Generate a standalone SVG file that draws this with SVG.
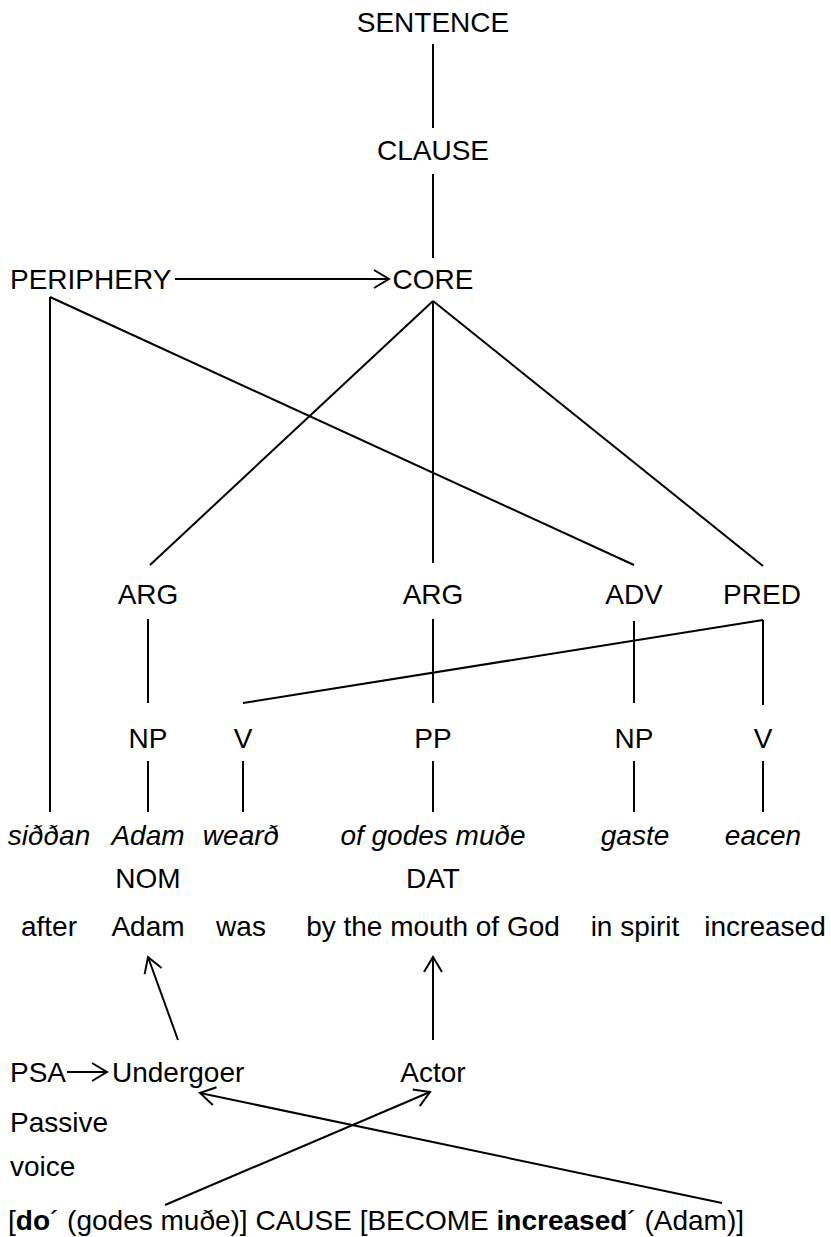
<svg xmlns="http://www.w3.org/2000/svg" width="831" height="1237" viewBox="0 0 831 1237">
<style>
text{font-family:"Liberation Sans",Arial,sans-serif;font-size:28px;fill:#000}
.c{text-anchor:middle}
.i{font-style:italic}
.b{font-weight:bold}
.ln{stroke:#000;stroke-width:2;fill:none}
.ar{stroke:#000;stroke-width:2;fill:none;marker-end:url(#ah)}
</style>
<defs>
<marker id="ah" markerUnits="userSpaceOnUse" viewBox="0 0 18 20" markerWidth="18" markerHeight="20" refX="16" refY="10" orient="auto">
<path d="M1,1 L16,10 L1,19" fill="none" stroke="#000" stroke-width="2"/>
</marker>
</defs>
<rect width="831" height="1237" fill="#fff"/>
<g id="connectors">
<line class="ln" x1="433" y1="44" x2="433" y2="128"/>
<line class="ln" x1="433" y1="174" x2="433" y2="258"/>
<line class="ar" x1="175" y1="279" x2="389" y2="279"/>
<line class="ln" x1="50" y1="297" x2="50" y2="812"/>
<line class="ln" x1="50" y1="297" x2="634" y2="565"/>
<line class="ln" x1="433" y1="301" x2="150" y2="565"/>
<line class="ln" x1="433" y1="301" x2="433" y2="563"/>
<line class="ln" x1="433" y1="301" x2="763" y2="566"/>
<line class="ln" x1="148" y1="619" x2="148" y2="703"/>
<line class="ln" x1="433" y1="619" x2="433" y2="703"/>
<line class="ln" x1="634" y1="621" x2="634" y2="703"/>
<line class="ln" x1="763" y1="620" x2="763" y2="705"/>
<line class="ln" x1="763" y1="620" x2="243" y2="703"/>
<line class="ln" x1="148" y1="761" x2="148" y2="812"/>
<line class="ln" x1="243" y1="761" x2="243" y2="812"/>
<line class="ln" x1="433" y1="761" x2="433" y2="812"/>
<line class="ln" x1="634" y1="761" x2="634" y2="812"/>
<line class="ln" x1="763" y1="761" x2="763" y2="812"/>
<line class="ar" x1="178" y1="1040" x2="148" y2="957"/>
<line class="ar" x1="433" y1="1040" x2="433" y2="957"/>
<line class="ar" x1="67" y1="1072" x2="107" y2="1072"/>
<line class="ar" x1="165" y1="1205" x2="430" y2="1092"/>
<line class="ar" x1="722" y1="1203" x2="200" y2="1093"/>
</g>
<g id="sentence"><text class="c" x="433" y="32">SENTENCE</text></g>
<g id="clause"><text class="c" x="433" y="160">CLAUSE</text></g>
<g id="periphery"><text x="10" y="289">PERIPHERY</text></g>
<g id="core"><text class="c" x="433" y="289">CORE</text></g>
<g id="arg1"><text class="c" x="148" y="604">ARG</text></g>
<g id="arg2"><text class="c" x="433" y="604">ARG</text></g>
<g id="adv"><text class="c" x="634" y="604">ADV</text></g>
<g id="pred"><text class="c" x="762" y="604">PRED</text></g>
<g id="np1"><text class="c" x="148" y="748">NP</text></g>
<g id="v1"><text class="c" x="243" y="748">V</text></g>
<g id="pp"><text class="c" x="433" y="748">PP</text></g>
<g id="np2"><text class="c" x="634" y="748">NP</text></g>
<g id="v2"><text class="c" x="763" y="748">V</text></g>
<g id="w-siddan"><text class="c i" x="49" y="845">siððan</text><text class="c" x="49" y="936">after</text></g>
<g id="w-adam"><text class="c i" x="148" y="845">Adam</text><text class="c" x="148" y="888">NOM</text><text class="c" x="148" y="936">Adam</text></g>
<g id="w-weard"><text class="c i" x="241" y="845">wearð</text><text class="c" x="241" y="936">was</text></g>
<g id="w-godes"><text class="c i" x="433" y="845">of godes muðe</text><text class="c" x="433" y="888">DAT</text><text class="c" x="433" y="936">by the mouth of God</text></g>
<g id="w-gaste"><text class="c i" x="635" y="845">gaste</text><text class="c" x="635" y="936">in spirit</text></g>
<g id="w-eacen"><text class="c i" x="763" y="845">eacen</text><text class="c" x="765" y="936">increased</text></g>
<g id="psa"><text x="10" y="1082">PSA</text></g>
<g id="undergoer"><text x="112" y="1082">Undergoer</text></g>
<g id="actor"><text class="c" x="433" y="1082">Actor</text></g>
<g id="voice"><text x="10" y="1132">Passive</text><text x="10" y="1176">voice</text></g>
<g id="logical-structure"><text x="8" y="1230">[<tspan class="b">do</tspan>´ (godes muðe)] CAUSE [BECOME <tspan class="b">increased</tspan>´ (Adam)]</text></g>
</svg>
